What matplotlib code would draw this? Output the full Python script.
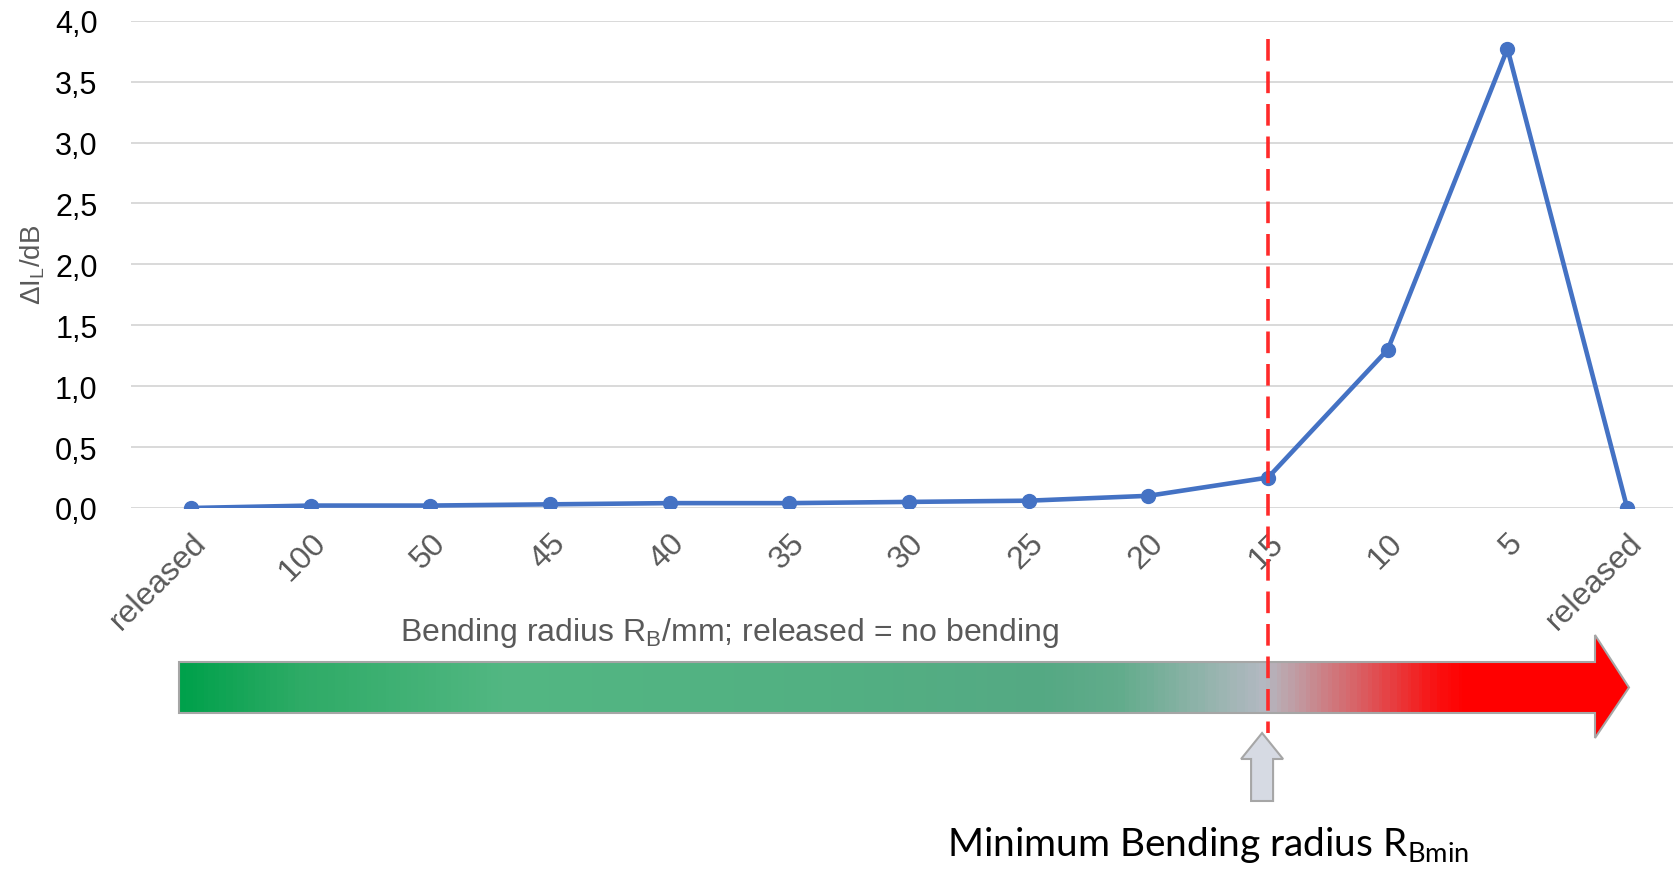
import matplotlib.pyplot as plt
import numpy as np
from matplotlib.colors import LinearSegmentedColormap
from matplotlib.patches import Polygon
from matplotlib.ticker import FuncFormatter
import matplotlib.transforms as mtransforms

# data
categories = ['released', '100', '50', '45', '40', '35', '30', '25', '20', '15', '10', '5', 'released']
delta_il = [0.0, 0.02, 0.02, 0.03, 0.04, 0.04, 0.05, 0.06, 0.10, 0.25, 1.30, 3.77, 0.0]
min_radius = '15'
y_ticks = [0.0, 0.5, 1.0, 1.5, 2.0, 2.5, 3.0, 3.5, 4.0]

W, H = 1673, 870
plt.rcParams['font.family'] = ['Liberation Sans', 'DejaVu Sans']

fig = plt.figure(figsize=(W / 100, H / 100), dpi=100)
ax = fig.add_axes([131 / W, 1 - 509 / H, (1687 - 131) / W, (509 - 21.7) / H])

x = np.arange(len(categories))
ax.plot(x, delta_il, color='#4472c4', lw=3.3, marker='o', ms=10, zorder=3,
        solid_capstyle='round')

ax.set_xlim(-0.5, len(categories) - 0.5)
ax.set_ylim(0, 4)
ax.set_yticks(y_ticks)
ax.yaxis.set_major_formatter(FuncFormatter(lambda v, p: f"{v:.1f}".replace('.', ',')))
ax.grid(axis='y', color='#d9d9d9', lw=1.4)
ax.set_axisbelow(True)
for s in ax.spines.values():
    s.set_visible(False)

ax.set_xticks(x)
ax.set_xticklabels(categories, rotation=45, ha='right', va='top', rotation_mode='anchor',
                   color='#595959', fontsize=23)
ax.tick_params(axis='x', length=0, pad=14)
ax.tick_params(axis='y', length=0, pad=24, labelsize=22, labelcolor='black')

ax.set_ylabel(r'ΔI$_\mathregular{L}$/dB', color='#595959', fontsize=20)
ax.yaxis.set_label_coords((47 - 131) / 1556, (509 - 265) / 487.3)

# red dashed marker of the minimum bending radius
xm = categories.index(min_radius)
trans = mtransforms.blended_transform_factory(ax.transData, fig.transFigure)
ax.plot([xm, xm], [1 - 40 / H, 1 - 734 / H], transform=trans, clip_on=False,
        color='#ff2a2a', lw=2.6, dashes=(6, 3), zorder=5)

# overlay in pixel coordinates for the gradient arrow and notes
ov = fig.add_axes([0, 0, 1, 1], zorder=-1)
ov.set_xlim(0, W)
ov.set_ylim(H, 0)
ov.axis('off')

stops = [(0.0, '#00a14b'), (0.08, '#2eab66'), (0.22, '#52b782'), (0.45, '#52b082'),
         (0.60, '#55a984'), (0.65, '#62ac8c'), (0.75, '#b4b9c2'), (0.82, '#dc5a5e'),
         (0.87, '#fa1010'), (0.89, '#ff0000'), (1.0, '#ff0000')]
cmap = LinearSegmentedColormap.from_list('bend', stops)
ax_l, ax_r, b_top, b_bot, h_x, h_top, h_bot = 179, 1629, 663, 714, 1595, 636, 739
mid = (b_top + b_bot) / 2
arrow = Polygon([(ax_l, b_top), (h_x, b_top), (h_x, h_top), (ax_r, mid), (h_x, h_bot),
                 (h_x, b_bot), (ax_l, b_bot)], closed=True, fc='none', ec='#a6a6a6', lw=1.5)
img = ov.imshow(np.linspace(0, 1, 400)[None, :], cmap=cmap, aspect='auto',
                extent=(ax_l, ax_r, h_bot, h_top))
ov.add_patch(arrow)
img.set_clip_path(arrow)

# small up arrow
cx = ax.transData.transform((xm, 0))[0] - 6
up = Polygon([(cx, 734), (cx + 21, 760), (cx + 11, 760), (cx + 11, 802), (cx - 11, 802),
              (cx - 11, 760), (cx - 21, 760)], closed=True, fc='#d6dae3', ec='#a6a6a6', lw=1.5)
ov.add_patch(up)

ov.text(730, 633, r'Bending radius R$_\mathregular{B}$/mm; released = no bending',
        ha='center', va='center', color='#595959', fontsize=23)
ov.text(947, 845, r'Minimum Bending radius R$_\mathregular{Bmin}$', ha='left', va='center',
        color='black', fontsize=28, family=['Lato', 'DejaVu Sans'])

fig.savefig('out.png', dpi=100)
